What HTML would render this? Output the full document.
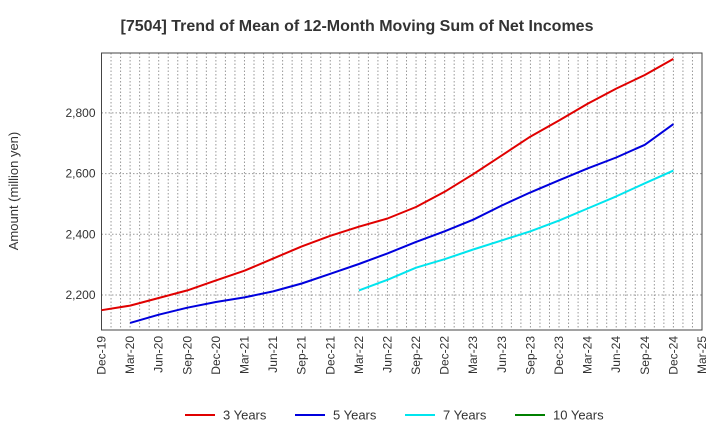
<!DOCTYPE html>
<html><head><meta charset="utf-8"><style>
body{margin:0;background:#fff;font-family:"Liberation Sans",sans-serif}
</style></head><body>
<svg id="c" width="720" height="440" xmlns="http://www.w3.org/2000/svg" font-family="Liberation Sans, sans-serif">
<text x="357" y="31" text-anchor="middle" font-size="16" font-weight="bold" fill="#333">[7504]  Trend of Mean of 12-Month Moving Sum of Net Incomes</text>
<text transform="translate(18,191) rotate(-90)" text-anchor="middle" font-size="13" fill="#333">Amount (million yen)</text>
<g id="grid"></g><g id="axes"></g><g id="series"></g><g id="legend"></g>
</svg>
<script>
const xLabels=["Dec-19","Mar-20","Jun-20","Sep-20","Dec-20","Mar-21","Jun-21","Sep-21","Dec-21","Mar-22","Jun-22","Sep-22","Dec-22","Mar-23","Jun-23","Sep-23","Dec-23","Mar-24","Jun-24","Sep-24","Dec-24","Mar-25"];
const yTicks=[2200,2400,2600,2800];
const seriesNames=["3 Years","5 Years","7 Years","10 Years"];
const seriesColors=["#e00000","#0000dd","#00e5ee","#008000"];
const s3=[2150,2165,2190,2215,2248,2280,2320,2360,2395,2425,2452,2490,2540,2598,2660,2722,2775,2830,2880,2925,2978];
const s5=[null,2108,2135,2158,2177,2192,2212,2238,2270,2302,2337,2375,2410,2448,2495,2538,2578,2617,2653,2695,2763];
const s7=[null,null,null,null,null,null,null,null,null,2215,2250,2290,2318,2350,2380,2410,2445,2485,2525,2568,2610];
const s10=[];
const L=101.5,R=702,T=53,B=330,monthW=(R-L)/63;
const x=q=>L+q*3*monthW;
const y=v=>295-(v-2200)*(60.7/200);
const NS="http://www.w3.org/2000/svg";
function mk(t,a,p){const e=document.createElementNS(NS,t);for(const k in a)e.setAttribute(k,a[k]);p.appendChild(e);return e;}
const g=document.getElementById('grid'),ax=document.getElementById('axes'),sg=document.getElementById('series'),lg=document.getElementById('legend');
for(let m=0;m<=63;m++){const e=mk('line',{x1:L+m*monthW,x2:L+m*monthW,y1:T,y2:B,stroke:'#999','stroke-dasharray':'1.5,2','stroke-width':1},g);

}
yTicks.forEach(v=>{const e=mk('line',{x1:L,x2:R,y1:y(v),y2:y(v),stroke:'#999','stroke-dasharray':'1.5,2'},g);


const t=mk('text',{x:L-6,y:y(v)+4,'text-anchor':'end','font-size':12,fill:'#333'},ax);t.textContent=v.toLocaleString('en-US');

});
xLabels.forEach((l,i)=>{const t=mk('text',{transform:`translate(${x(i)+4},${B+6}) rotate(-90)`,'text-anchor':'end','font-size':12,fill:'#333'},ax);t.textContent=l;

});
const fr=mk('rect',{x:L,y:T,width:R-L,height:B-T,fill:'none',stroke:'#444','stroke-width':1},ax);


[s3,s5,s7,s10].forEach((s,k)=>{const pts=[];s.forEach((v,i)=>{if(v!=null)pts.push(x(i).toFixed(1)+','+y(v).toFixed(1));});
if(pts.length){const p=mk('polyline',{points:pts.join(' '),fill:'none',stroke:seriesColors[k],'stroke-width':2,'stroke-linejoin':'round'},sg);

}});
const lx=[185,295,405,515];
seriesNames.forEach((n,k)=>{const e=mk('g',{},lg);


mk('line',{x1:lx[k],x2:lx[k]+30,y1:415,y2:415,stroke:seriesColors[k],'stroke-width':2},e);
const t=mk('text',{x:lx[k]+38,y:419.5,'font-size':13,fill:'#333'},e);t.textContent=n;});
</script>
</body></html>
